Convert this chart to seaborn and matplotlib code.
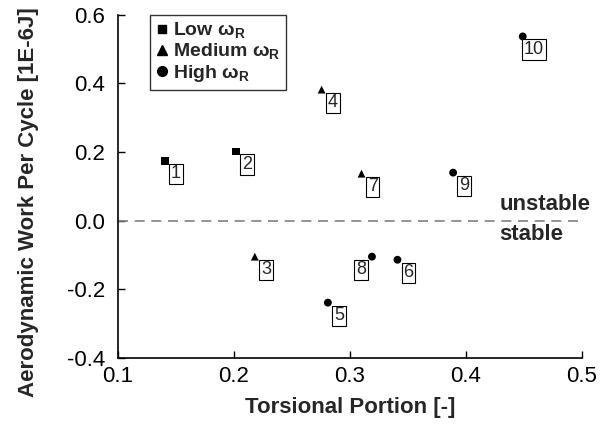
import matplotlib
matplotlib.use("Agg")
import matplotlib.pyplot as plt
from matplotlib.lines import Line2D
import seaborn as sns
import pandas as pd

torsional = [0.1405, 0.2017, 0.218, 0.2756, 0.281, 0.341, 0.310, 0.319, 0.389, 0.449]
work = [0.175, 0.2015, -0.105, 0.382, -0.239, -0.114, 0.137, -0.105, 0.140, 0.537]
group = ["Low", "Low", "Medium", "Medium", "High", "High", "Medium", "High", "High", "High"]
ids = ["1", "2", "3", "4", "5", "6", "7", "8", "9", "10"]
xticks = [0.1, 0.2, 0.3, 0.4, 0.5]
yticks = [-0.4, -0.2, 0.0, 0.2, 0.4, 0.6]

sns.set_theme(style="ticks")
plt.rcParams["font.family"] = ["Liberation Sans", "DejaVu Sans"]
plt.rcParams["mathtext.fontset"] = "custom"
plt.rcParams["mathtext.rm"] = "Liberation Sans"
plt.rcParams["mathtext.bf"] = "Liberation Sans:bold"

df = pd.DataFrame({"x": torsional, "y": work, "g": group, "id": ids})

fig = plt.figure(figsize=(6.08, 4.24), dpi=100)
ax = fig.add_axes([0.194, 0.156, 0.763, 0.809])

ax.axhline(0, color="#808080", lw=1.2, ls=(0, (6, 4)), zorder=1)

sns.scatterplot(data=df, x="x", y="y", style="g",
                markers={"Low": "s", "Medium": "^", "High": "o"},
                style_order=["Low", "Medium", "High"],
                color="black", s=32, edgecolor="black", linewidth=0,
                ax=ax, legend=False, zorder=3)

for xi, yi, lab in zip(torsional, work, ids):
    dx = -8 if lab == "8" else 8
    ax.annotate(lab, (xi, yi), xytext=(dx, -9.5), textcoords="offset points",
                ha="center", va="center", fontsize=13,
                bbox=dict(boxstyle="square,pad=0.1", fc="white", ec="black", lw=0.8))

ax.text(0.429, 0.047, "unstable", fontsize=16, fontweight="bold", ha="left", va="center")
ax.text(0.429, -0.041, "stable", fontsize=16, fontweight="bold", ha="left", va="center")

ax.set_xlim(0.1, 0.5)
ax.set_ylim(-0.4, 0.6)
ax.set_xticks(xticks)
ax.set_yticks(yticks)
ax.set_xticklabels([f"{v:.1f}" for v in xticks], fontsize=16)
ax.set_yticklabels([f"{v:.1f}" for v in yticks], fontsize=16)
ax.tick_params(direction="in", length=5, width=1, colors="black")
ax.tick_params(axis="x", pad=6)
ax.tick_params(axis="y", pad=9)
for s in ["left", "bottom"]:
    ax.spines[s].set_color("black")
    ax.spines[s].set_linewidth(1.2)
sns.despine(ax=ax)

ax.set_xlabel("Torsional Portion [-]", fontsize=16, fontweight="bold")
ax.set_ylabel("Aerodynamic Work Per Cycle [1E-6J]", fontsize=16, fontweight="bold")
ax.xaxis.set_label_coords(0.5, -0.115)
ax.yaxis.set_label_coords(-0.17, 0.455)

handles = [Line2D([], [], marker=m, color="black", ls="", markersize=ms)
           for m, ms in [("s", 6), ("^", 7), ("o", 7)]]
labels = [r"Low ω$_\mathregular{R}$", r"Medium ω$_\mathregular{R}$", r"High ω$_\mathregular{R}$"]
leg = ax.legend(handles, labels, loc="upper left", bbox_to_anchor=(0.069, 1.0),
                borderaxespad=0, frameon=True, fancybox=False, edgecolor="black",
                handlelength=0.6, handletextpad=0.3, borderpad=0.3, labelspacing=0.05,
                prop={"weight": "bold", "size": 14})
leg.get_frame().set_linewidth(1.0)

fig.savefig("out.png", dpi=100)
